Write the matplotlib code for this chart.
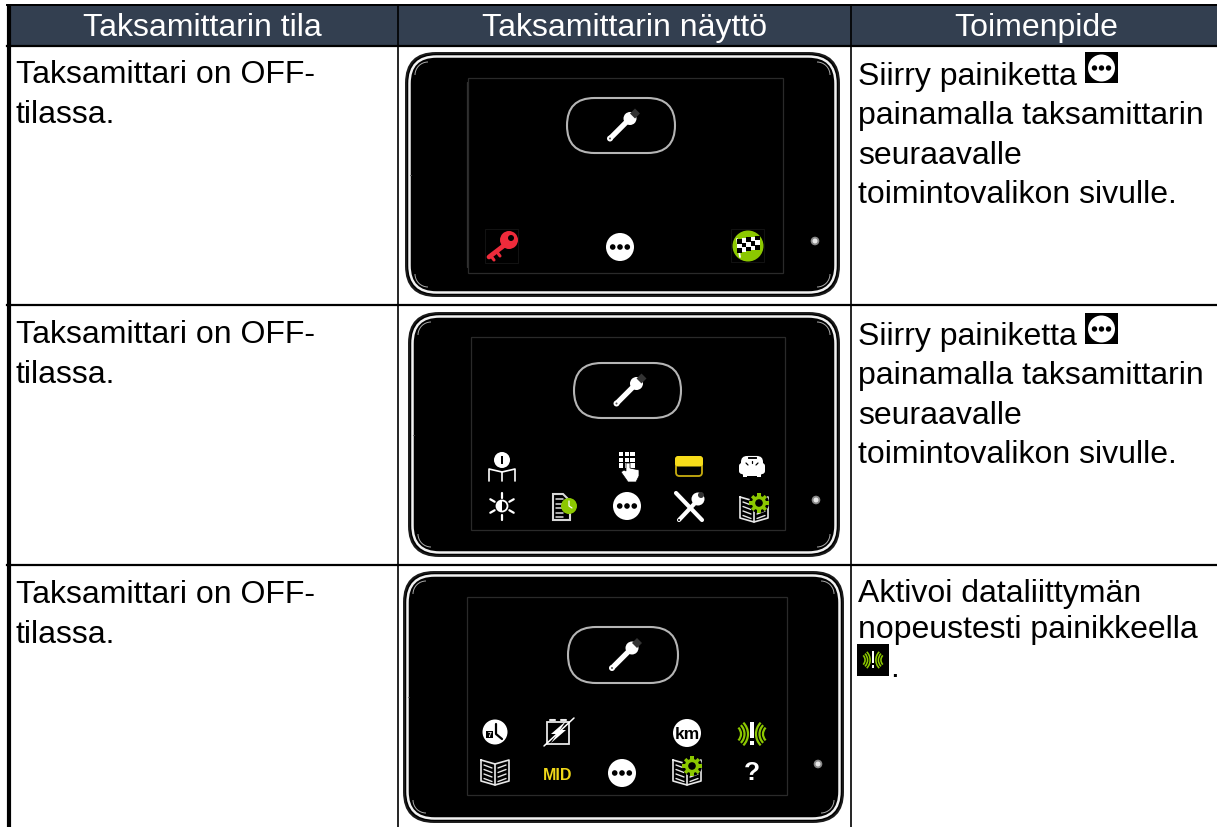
import matplotlib
matplotlib.use('Agg')
import matplotlib.pyplot as plt
import numpy as np
from matplotlib.patches import Circle, FancyBboxPatch, Polygon, Rectangle, RegularPolygon, Wedge, Arc

plt.rcParams['font.family'] = ['Liberation Sans', 'DejaVu Sans']

# table text
headers = ['Taksamittarin tila', 'Taksamittarin näyttö', 'Toimenpide']
state_lines = ['Taksamittari on OFF-', 'tilassa.']
action_rows = [
    ['Siirry painiketta', 'painamalla taksamittarin', 'seuraavalle', 'toimintovalikon sivulle.'],
    ['Siirry painiketta', 'painamalla taksamittarin', 'seuraavalle', 'toimintovalikon sivulle.'],
    ['Aktivoi dataliittymän', 'nopeustesti painikkeella'],
]

# icons on each of the three screens
screen1_icons = ['key', 'dots', 'flag']
screen2_icons = ['info', 'keypad', 'card', 'scale', 'sun', 'doc', 'dots', 'tools', 'bookgear']
screen3_icons = ['week', 'battery', 'km', 'signal', 'book', 'mid', 'dots', 'bookgear', 'help']

GREEN = '#8CC800'
DARK = '#333F50'

fig = plt.figure(figsize=(12.17, 8.28), dpi=100)
ax = fig.add_axes([0, 0, 1, 1])
ax.set_xlim(0, 1217)
ax.set_ylim(828, 0)
ax.axis('off')


def line(xs, ys, c='white', lw=1.5, z=5):
    ax.plot(xs, ys, color=c, lw=lw, zorder=z, solid_capstyle='round')


def dots(x, y, r=14):
    ax.add_patch(Circle((x, y), r, fc='white', ec='none', zorder=5))
    for dx in (-0.52, 0, 0.52):
        ax.add_patch(Circle((x + dx * r, y), r * 0.2, fc='black', ec='none', zorder=6))


def wrench(x, y):
    line([x - 10, x + 8], [y + 12, y - 6], lw=3.8)
    ax.add_patch(Circle((x - 11, y + 13), 3, fc='white', ec='none', zorder=6))
    ax.add_patch(Circle((x - 11, y + 13), 1.0, fc='#555555', ec='none', zorder=7))
    ax.add_patch(Circle((x + 9, y - 7), 6.5, fc='white', ec='none', zorder=6))
    ax.add_patch(RegularPolygon((x + 14, y - 12), 4, radius=5, orientation=0, fc='#333333', ec='none', zorder=7))


def key(x, y):
    ax.add_patch(Rectangle((x - 18, y - 17), 33, 34, fc='none', ec='#161616', lw=0.6, zorder=4))
    ax.add_patch(Circle((x + 6, y - 6), 9, fc='#EE2B3B', ec='none', zorder=5))
    ax.add_patch(Circle((x + 8, y - 8), 3, fc='black', ec='none', zorder=6))
    line([x + 3, x - 14], [y - 2, y + 11], c='#EE2B3B', lw=3.4)
    line([x - 6, x - 3], [y + 6, y + 10], c='#EE2B3B', lw=2.2)
    line([x - 12, x - 9], [y + 10, y + 14], c='#EE2B3B', lw=2.2)


def flag(x, y):
    ax.add_patch(Rectangle((x - 17, y - 17), 33, 33, fc='none', ec='#161616', lw=0.6, zorder=4))
    ax.add_patch(Circle((x, y), 15.5, fc=GREEN, ec='none', zorder=5))
    line([x - 8, x - 11], [y + 11, y - 7], lw=1.3, z=6)
    for i in range(5):
        for j in range(3):
            c = 'black' if (i + j) % 2 == 0 else 'white'
            ax.add_patch(Rectangle((x - 11 + i * 4.6, y - 7 + j * 4.6 - i * 0.8), 4.6, 4.6, fc=c, ec='none', zorder=6))


def info(x, y):
    ax.add_patch(Circle((x, y - 7), 8, fc='white', ec='none', zorder=5))
    ax.add_patch(Rectangle((x - 1.3, y - 11), 2.6, 8, fc='black', ec='none', zorder=6))
    line([x - 13, x - 13, x, x + 13, x + 13], [y + 14, y + 2, y + 5, y + 2, y + 14], lw=1.2)
    line([x, x], [y + 5, y + 14], lw=1.2)


def keypad(x, y):
    for i in range(3):
        for j in range(3):
            ax.add_patch(Rectangle((x - 8 + i * 5.7, y - 15 + j * 5.7), 4.4, 4.4, fc='white', ec='none', zorder=5))
    ax.add_patch(Polygon([[x - 6, y + 5], [x - 3, y + 3], [x - 1, y + 4], [x - 1, y - 4], [x + 3, y - 4], [x + 3, y + 1], [x + 12, y + 3],
                          [x + 12, y + 9], [x + 9, y + 15], [x + 1, y + 15]], fc='white', ec='black', lw=0.5, zorder=6))


def card(x, y):
    ax.add_patch(FancyBboxPatch((x - 13, y - 9), 26, 19, boxstyle='round,pad=0,rounding_size=3.5',
                                fc='black', ec='#C9AE10', lw=1.3, zorder=5))
    ax.add_patch(FancyBboxPatch((x - 14, y - 10), 28, 10.5, boxstyle='round,pad=0,rounding_size=3',
                                fc='#F7DC1A', ec='none', zorder=6))


def scale(x, y):
    ax.add_patch(FancyBboxPatch((x - 11, y - 10), 22, 20, boxstyle='round,pad=0,rounding_size=6',
                                fc='white', ec='none', zorder=5))
    ax.add_patch(FancyBboxPatch((x - 13, y - 3), 26, 11, boxstyle='round,pad=0,rounding_size=3',
                                fc='white', ec='none', zorder=5))
    ax.add_patch(Rectangle((x - 9, y + 8), 4, 3, fc='white', ec='none', zorder=5))
    ax.add_patch(Rectangle((x + 5, y + 8), 4, 3, fc='white', ec='none', zorder=5))
    ax.add_patch(Rectangle((x - 5, y - 10), 10, 3, fc='black', ec='white', lw=0.8, zorder=6))
    line([x - 6, x - 4], [y - 3, y - 1], c='black', lw=0.9, z=6)
    line([x + 6, x + 4], [y - 3, y - 1], c='black', lw=0.9, z=6)
    line([x, x], [y - 5, y - 3], c='black', lw=0.9, z=6)


def sun(x, y):
    ax.add_patch(Circle((x, y), 5.5, fc='black', ec='white', lw=1.3, zorder=5))
    ax.add_patch(Wedge((x, y), 5.5, 90, 270, fc='white', ec='none', zorder=6))
    for a in (90, 30, -30, -90, 150, 210):
        c, s = np.cos(np.radians(a)), np.sin(np.radians(a))
        line([x + 8.5 * c, x + 13.5 * c], [y + 8.5 * s, y + 13.5 * s], lw=1.6)


def doc(x, y):
    ax.add_patch(Polygon([[x - 11, y - 12], [x - 1, y - 12], [x + 6, y - 5], [x + 6, y + 14], [x - 11, y + 14]],
                         fc='black', ec='#D8D8D8', lw=1.5, zorder=5))
    for k in range(5):
        line([x - 8, x - 1], [y - 7 + k * 4.5, y - 7 + k * 4.5], c='#DDDDDD', lw=1.1)
    ax.add_patch(Circle((x + 5, y + 0), 8, fc=GREEN, ec='none', zorder=7))
    line([x + 5, x + 5, x + 8], [y - 5, y, y + 2], lw=0.9, z=8)


def tools(x, y):
    line([x - 13, x + 13], [y - 13, y + 14], lw=3)
    line([x - 10, x + 8], [y + 14, y - 5], lw=3)
    ax.add_patch(Circle((x + 9, y - 7), 6.5, fc='white', ec='none', zorder=6))
    ax.add_patch(Circle((x + 12, y - 11), 3, fc='#333333', ec='none', zorder=7))
    ax.add_patch(Circle((x - 10, y + 14), 1, fc='black', ec='none', zorder=7))


def book(x, y, gear=False):
    xs = [x - 14, x, x + 14, x + 14, x, x - 14, x - 14]
    ys = [y - 11, y - 7, y - 11, y + 10, y + 14, y + 10, y - 11]
    line(xs, ys, c='#E8E8E8', lw=1.2)
    line([x, x], [y - 7, y + 14], c='#E8E8E8', lw=1.2)
    for k in range(4):
        line([x - 11, x - 3], [y - 6 + k * 4.5, y - 3 + k * 4.5], c='#E8E8E8', lw=1.0)
        if not (gear and k < 2):
            line([x + 3, x + 11], [y - 3 + k * 4.5, y - 6 + k * 4.5], c='#E8E8E8', lw=1.0)
    if gear:
        gx, gy = x + 5, y - 5
        ax.add_patch(Circle((gx, gy), 10, fc='black', ec='none', zorder=6))
        for a in np.arange(0, 360, 45):
            ax.add_patch(RegularPolygon((gx + 8 * np.cos(np.radians(a)), gy + 8 * np.sin(np.radians(a))), 4, radius=2.4,
                                        orientation=np.radians(a + 45), fc=GREEN, ec='none', zorder=7))
        ax.add_patch(Circle((gx, gy), 5.5, fc='none', ec=GREEN, lw=2.4, zorder=7))


def week(x, y):
    ax.add_patch(Circle((x, y), 12.5, fc='white', ec='none', zorder=5))
    ax.add_patch(Rectangle((x - 9, y - 1), 7, 7, fc='black', ec='none', zorder=6))
    ax.text(x - 5.5, y + 2.5, '7', color='white', fontsize=5, fontweight='bold', ha='center', va='center', zorder=7)
    line([x + 1, x + 1, x + 7], [y - 8, y + 2, y + 7], c='black', lw=1.6, z=6)


def battery(x, y):
    ax.add_patch(Rectangle((x - 11, y - 10), 22, 22, fc='black', ec='#E8E8E8', lw=1.3, zorder=5))
    line([x - 8, x - 3], [y - 12, y - 12], c='#E8E8E8', lw=1.5)
    line([x + 3, x + 8], [y - 12, y - 12], c='#E8E8E8', lw=1.5)
    line([x - 14, x + 16], [y + 14, y - 14], lw=1.1, z=6)
    ax.add_patch(Polygon([[x + 8, y - 11], [x - 7, y + 2], [x - 1, y + 2], [x - 7, y + 11], [x + 8, y - 2], [x + 2, y - 2]],
                         fc='white', ec='none', zorder=6))


def km(x, y):
    ax.add_patch(Circle((x, y), 14, fc='white', ec='none', zorder=5))
    ax.text(x, y + 0.5, 'km', color='black', fontsize=12.5, fontweight='bold', ha='center', va='center', zorder=6)


def signal(x, y, s=1.0, bar='white'):
    ax.add_patch(Rectangle((x - 1.8 * s, y - 12 * s), 3.6 * s, 16 * s, fc=bar, ec='none', zorder=6))
    ax.add_patch(Rectangle((x - 1.8 * s, y + 7 * s), 3.6 * s, 4 * s, fc=bar, ec='none', zorder=6))
    for r in (9, 12.5, 16):
        ax.add_patch(Arc((x - 20 * s, y), 2 * r * s, 2 * r * s, theta1=-45, theta2=45, color=GREEN, lw=1.6 * s, zorder=6))
        ax.add_patch(Arc((x + 20 * s, y), 2 * r * s, 2 * r * s, theta1=135, theta2=225, color=GREEN, lw=1.6 * s, zorder=6))


def mid(x, y):
    ax.text(x, y + 1, 'MID', color='#F0D818', fontsize=11.5, fontweight='bold', ha='center', va='center', zorder=6)


def help_icon(x, y):
    ax.text(x, y, '?', color='white', fontsize=19, fontweight='bold', ha='center', va='center', zorder=6)


def draw_icon(name, x, y):
    if name == 'key':
        key(x, y)
    elif name == 'dots':
        dots(x, y)
    elif name == 'flag':
        flag(x, y)
    elif name == 'info':
        info(x, y)
    elif name == 'keypad':
        keypad(x, y)
    elif name == 'card':
        card(x, y)
    elif name == 'scale':
        scale(x, y)
    elif name == 'sun':
        sun(x, y)
    elif name == 'doc':
        doc(x, y)
    elif name == 'tools':
        tools(x, y)
    elif name == 'bookgear':
        book(x, y, gear=True)
    elif name == 'book':
        book(x, y)
    elif name == 'week':
        week(x, y)
    elif name == 'battery':
        battery(x, y)
    elif name == 'km':
        km(x, y)
    elif name == 'signal':
        signal(x, y)
    elif name == 'mid':
        mid(x, y)
    elif name == 'help':
        help_icon(x, y)


def device(x0, x1, y0, y1, sx0, sx1, sy0, sy1, px0, px1, py0, py1, led):
    w, h = x1 - x0, y1 - y0
    # black body with the double white and black rim
    ax.add_patch(FancyBboxPatch((x0, y0), w, h, boxstyle='round,pad=0,rounding_size=30', fc='black', ec='#1A1A1A', lw=1.4, zorder=2))
    ax.add_patch(FancyBboxPatch((x0 + 3.5, y0 + 3.5), w - 7, h - 7, boxstyle='round,pad=0,rounding_size=27', fc='black', ec='#F2F2F2', lw=1.8, zorder=2))
    # thin corner marks
    r = 13
    ins = 9
    for cx, cy, t in [(x0 + ins + r, y0 + ins + r, 180), (x1 - ins - r, y0 + ins + r, 270),
                      (x1 - ins - r, y1 - ins - r, 0), (x0 + ins + r, y1 - ins - r, 90)]:
        ax.add_patch(Arc((cx, cy), 2 * r, 2 * r, theta1=t, theta2=t + 90, color='#AAAAAA', lw=0.7, zorder=3))
    ax.add_patch(Rectangle((sx0, sy0), sx1 - sx0, sy1 - sy0, fc='none', ec='#2A2A2A', lw=0.9, zorder=3))
    ph = py1 - py0
    ax.add_patch(FancyBboxPatch((px0, py0), px1 - px0, ph, boxstyle=f'round,pad=0,rounding_size={ph / 2}', fc='black', ec='#B5B5B5', lw=1.5, zorder=4))
    wrench((px0 + px1) / 2, (py0 + py1) / 2)
    ax.add_patch(Circle(led, 3.4, fc='#E8E8E8', ec='#888888', lw=1.3, zorder=4))
    # little mark on the left edge
    line([x0 + 4, x0 + 5], [(y0 + y1) / 2, (y0 + y1) / 2], c='#555555', lw=0.7, z=3)


# header band
ax.add_patch(Rectangle((7, 5), 1210, 43, fc=DARK, ec='none', zorder=1))
for name, cx in zip(headers, (202.5, 624.5, 1036)):
    ax.text(cx, 36, name, color='white', fontsize=23, ha='center', va='baseline', zorder=3)

# grid lines
ax.plot([9, 9], [5, 828], color='black', lw=3, zorder=3, solid_capstyle='butt')
ax.plot([7, 1217], [6, 6], color='black', lw=1.4, zorder=3)
ax.plot([7, 1217], [47.3, 47.3], color='black', lw=1.6, zorder=3)
ax.plot([7, 1217], [306, 306], color='black', lw=1.6, zorder=3)
ax.plot([7, 1217], [566, 566], color='black', lw=1.6, zorder=3)
for x in (397.5, 851):
    ax.plot([x, x], [6, 828], color='black', lw=1.2, zorder=3, solid_capstyle='butt')

# devices
device(406, 839, 54, 297, 468, 783, 79, 274, 567, 675, 99, 154, (815, 242))
device(409, 839, 314, 557, 471, 785, 338, 531, 574, 681, 364, 419, (816, 501))
device(404, 843, 573, 823, 467, 787, 598, 796, 568, 678, 628, 684, (818, 765))
line([467, 467], [83, 268], c='#303030', lw=0.9, z=3)

for name, x, y in zip(screen1_icons, (503, 620, 748), (247, 248, 247)):
    draw_icon(name, x, y)
grid2 = [(502, 468), (627, 468), (689, 467), (752, 467), (502, 507), (564, 507), (627, 507), (689, 507), (754, 509)]
for name, (x, y) in zip(screen2_icons, grid2):
    draw_icon(name, x, y)
grid3 = [(495, 733), (558, 733), (687, 734), (752, 735), (495, 772), (558, 775), (622, 774), (687, 772), (752, 773)]
for name, (x, y) in zip(screen3_icons, grid3):
    draw_icon(name, x, y)

# state column
for y0 in (83, 343, 603):
    for k, s in enumerate(state_lines):
        ax.text(16, y0 + k * 40, s, color='black', fontsize=23, ha='left', va='baseline', zorder=5)

# action column
for y0, step, lines in zip((85, 345, 602), (39.3, 39.3, 36), action_rows):
    for k, s in enumerate(lines):
        ax.text(858, y0 + k * step, s, color='black', fontsize=23, ha='left', va='baseline', zorder=5)

# small button pictures inside the text
for y in (53, 314):
    ax.add_patch(Rectangle((1085, y), 33, 31, fc='black', ec='none', zorder=5))
    dots(1101.5, y + 16, r=13.5)
ax.add_patch(Rectangle((857, 645), 32, 32, fc='black', ec='none', zorder=5))
signal(873, 661, s=0.72)
ax.text(890, 677, '.', color='black', fontsize=23, ha='left', va='baseline', zorder=5)

fig.savefig('out.png', dpi=100)
